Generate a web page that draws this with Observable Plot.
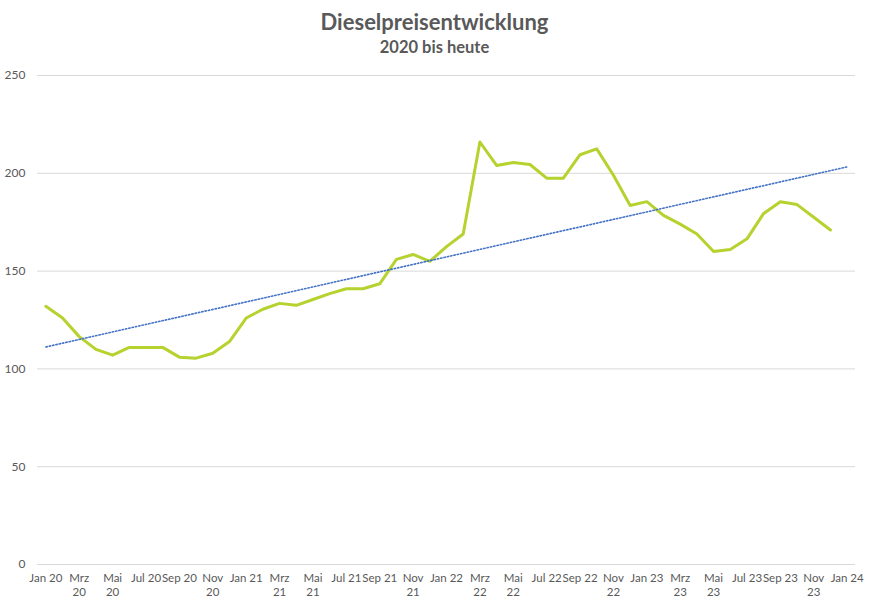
<!DOCTYPE html>
<html>
<head>
<meta charset="utf-8">
<script src="https://cdn.jsdelivr.net/npm/d3@7"></script>
<script src="https://cdn.jsdelivr.net/npm/@observablehq/plot@0.6"></script>
<style>
  body { margin: 0; background: #fff; font-family: Lato, "Open Sans", sans-serif; }
  #head { width: 869px; height: 60px; text-align: center; color: #595959; }
  #title { padding-top: 8px; font-size: 22px; line-height: 27px; font-weight: bold; }
  #subtitle { margin-top: 2px; font-size: 16.5px; line-height: 20px; font-weight: bold; }
</style>
</head>
<body>
<div id="head">
  <div id="title">Dieselpreisentwicklung</div>
  <div id="subtitle">2020 bis heute</div>
</div>
<div id="chart"></div>
<script>
// Monthly categories (Jan 20 .. Jan 24)
const categories = [
  "Jan 20","Feb 20","Mrz 20","Apr 20","Mai 20","Jun 20","Jul 20","Aug 20","Sep 20","Okt 20","Nov 20","Dez 20",
  "Jan 21","Feb 21","Mrz 21","Apr 21","Mai 21","Jun 21","Jul 21","Aug 21","Sep 21","Okt 21","Nov 21","Dez 21",
  "Jan 22","Feb 22","Mrz 22","Apr 22","Mai 22","Jun 22","Jul 22","Aug 22","Sep 22","Okt 22","Nov 22","Dez 22",
  "Jan 23","Feb 23","Mrz 23","Apr 23","Mai 23","Jun 23","Jul 23","Aug 23","Sep 23","Okt 23","Nov 23","Dez 23",
  "Jan 24"
];
// Diesel price (ct/l), Jan 20 .. Dez 23
const prices = [
  132, 126, 116.5, 110, 107, 111, 111, 111, 106, 105.5, 108, 114,
  126, 130.5, 133.5, 132.5, 135.5, 138.5, 141, 141, 143.5, 156, 158.5, 155,
  162.5, 169, 216, 204, 205.5, 204.5, 197.5, 197.5, 209.5, 212.5, 199, 183.5,
  185.5, 178.5, 174, 169, 160, 161, 166.5, 179.5, 185.5, 184, 177.5, 171
];
// Axis tick labels (every second month, wrapped as in the original)
const tickLabels = [
  "Jan 20","Mrz\n20","Mai\n20","Jul 20","Sep 20","Nov\n20",
  "Jan 21","Mrz\n21","Mai\n21","Jul 21","Sep 21","Nov\n21",
  "Jan 22","Mrz\n22","Mai\n22","Jul 22","Sep 22","Nov\n22",
  "Jan 23","Mrz\n23","Mai\n23","Jul 23","Sep 23","Nov\n23",
  "Jan 24"
];
const yTicks = [0, 50, 100, 150, 200, 250];

const data = prices.map((v, i) => ({i, month: categories[i], price: v}));

// Linear trend (least squares), extended one period forward
const mx = d3.mean(data, d => d.i), my = d3.mean(data, d => d.price);
const slope = d3.sum(data, d => (d.i - mx) * (d.price - my)) / d3.sum(data, d => (d.i - mx) ** 2);
const icpt = my - slope * mx;
const trend = [0, categories.length - 1].map(i => ({i, price: icpt + slope * i}));

const tickIdx = tickLabels.map(t => categories.indexOf(t.replace("\n", " ")));

const chart = Plot.plot({
  width: 869,
  height: 547,
  marginTop: 15,
  marginBottom: 43,
  marginLeft: 37,
  marginRight: 14,
  style: {fontFamily: "Lato, 'Open Sans', sans-serif", color: "#595959", background: "#fff"},
  x: {type: "linear", domain: [-0.5, categories.length - 0.5], axis: null},
  y: {domain: [0, 250], axis: null},
  marks: [
    Plot.gridY(yTicks, {stroke: "#d9d9d9", strokeOpacity: 1, strokeWidth: 1}),
    Plot.axisY(yTicks, {tickSize: 0, tickPadding: 12, fontSize: 12, fill: "#595959", label: null}),
    Plot.axisX(tickIdx, {
      tickSize: 0, tickPadding: 8, fontSize: 11.5, fill: "#595959", label: null,
      lineHeight: 1.2, tickFormat: i => tickLabels[tickIdx.indexOf(i)]
    }),
    Plot.line(data, {x: "i", y: "price", stroke: "#b5d22f", strokeWidth: 3, strokeLinejoin: "round"}),
    Plot.line(trend, {x: "i", y: "price", stroke: "#4472c4", strokeWidth: 1.6, strokeDasharray: "1.4,2"})
  ]
});
document.getElementById("chart").appendChild(chart);
</script>
</body>
</html>
